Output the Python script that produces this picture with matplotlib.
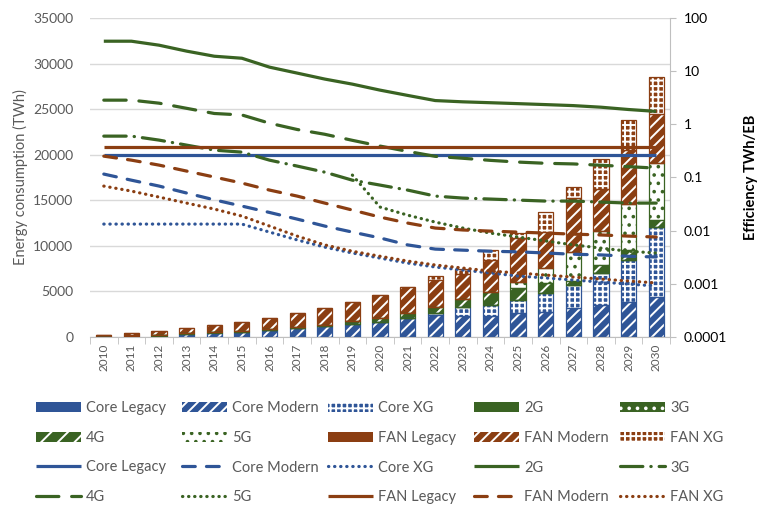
import numpy as np
import matplotlib.pyplot as plt
from matplotlib.ticker import FuncFormatter, FixedLocator

plt.rcParams['font.family'] = ['Lato', 'DejaVu Sans']
plt.rcParams['hatch.linewidth'] = 1.4

# --- Data ---
years = [str(y) for y in range(2010, 2031)]

# stacked energy consumption (TWh)
core_legacy = [0] * 21
core_modern = [0, 60, 150, 330, 460, 560, 800, 950, 1200, 1480, 1680, 2050, 2400, 2300, 2300, 2600, 2780, 3150, 3510, 3870, 4420]
core_xg = [0, 0, 0, 0, 0, 0, 0, 0, 0, 0, 0, 80, 250, 1000, 1200, 1450, 2080, 2550, 3470, 4570, 7680]
g2 = [30, 40, 50, 40, 40, 30, 0, 0, 0, 0, 0, 0, 0, 0, 0, 0, 0, 0, 0, 0, 0]
g3 = [0, 0, 0, 30, 0, 0, 0, 0, 0, 0, 0, 0, 0, 0, 0, 0, 0, 0, 0, 0, 0]
g4 = [0, 0, 0, 0, 40, 50, 100, 150, 170, 260, 370, 480, 590, 900, 1450, 1280, 1100, 440, 910, 1100, 730]
g5 = [0, 0, 0, 0, 0, 0, 0, 0, 0, 0, 0, 0, 0, 0, 0, 730, 1570, 3220, 3720, 5010, 6210]
fan_legacy = [200, 100, 50, 0, 0, 0, 0, 0, 0, 0, 0, 0, 0, 0, 0, 0, 0, 0, 0, 0, 0]
fan_modern = [0, 240, 450, 550, 740, 970, 1150, 1500, 1780, 2100, 2520, 2900, 3000, 2750, 3500, 4750, 4020, 5850, 4680, 5960, 5480]
fan_xg = [0, 0, 0, 0, 0, 0, 0, 0, 0, 0, 0, 0, 440, 550, 1100, 550, 2190, 1270, 3290, 3290, 4020]

# efficiency (TWh/EB), log scale
eff_core_legacy = [0.26] * 21
eff_core_modern = [0.116, 0.089, 0.069, 0.051, 0.038, 0.029, 0.022, 0.0165, 0.0122, 0.0094, 0.0073,
                   0.0054, 0.0045, 0.0043, 0.0041, 0.0040, 0.0038, 0.0036, 0.0035, 0.0033, 0.0032]
eff_core_xg = [0.0133, 0.0133, 0.0133, 0.0133, 0.0133, 0.0133, 0.0094, 0.0067, 0.0049, 0.0038, 0.00305,
               0.00246, 0.00207, 0.00182, 0.0016, 0.0014, 0.00129, 0.00118, 0.00108, 0.00099, 0.00091]
eff_2g = [36.6, 36.6, 30.8, 23.8, 19.1, 17.5, 11.9, 9.2, 7.1, 5.7, 4.4,
          3.5, 2.8, 2.65, 2.55, 2.45, 2.35, 2.25, 2.1, 1.9, 1.75]
eff_3g = [0.6, 0.6, 0.505, 0.406, 0.327, 0.3, 0.212, 0.164, 0.126, 0.089, 0.072,
          0.058, 0.0447, 0.041, 0.0393, 0.0376, 0.036, 0.036, 0.0345, 0.033, 0.033]
eff_4g = [2.85, 2.85, 2.5, 2.0, 1.6, 1.5, 1.05, 0.8, 0.65, 0.5, 0.39,
          0.31, 0.25, 0.23, 0.21, 0.195, 0.185, 0.18, 0.17, 0.16, 0.15]
eff_5g = [np.nan] * 9 + [0.111, 0.0278, 0.0196, 0.0145, 0.0112, 0.009, 0.0076, 0.0064, 0.0054, 0.0047, 0.0041, 0.0038]
eff_fan_legacy = [0.37] * 21
eff_fan_modern = [0.252, 0.212, 0.171, 0.132, 0.102, 0.0785, 0.058, 0.0447, 0.033, 0.0244, 0.018,
                  0.0139, 0.0112, 0.0103, 0.0098, 0.0094, 0.009, 0.0086, 0.0083, 0.0079, 0.0076]
eff_fan_xg = [0.0689, 0.0555, 0.0428, 0.033, 0.0255, 0.0188, 0.0122, 0.0079, 0.0054, 0.0041, 0.0033,
              0.00268, 0.00226, 0.00198, 0.00174, 0.0016, 0.00146, 0.00134, 0.00123, 0.00113, 0.00104]

BLUE = '#2F5597'
GREEN = '#3A6323'
BROWN = '#8B3E12'
GRAY = '#595959'

# --- Figure ---
fig = plt.figure(figsize=(7.68, 5.07), dpi=100)
ax = fig.add_axes([90 / 768, 1 - 337 / 507, (670 - 90) / 768, (337 - 18) / 507])
x = np.arange(len(years))
w = 0.55

# (label, values, colour, face, hatch colour, hatch)
bar_series = [
    ('Core Legacy', core_legacy, BLUE, BLUE, BLUE, None),
    ('Core Modern', core_modern, BLUE, BLUE, 'white', '///'),
    ('Core XG', core_xg, BLUE, BLUE, 'white', '+++'),
    ('2G', g2, GREEN, GREEN, GREEN, None),
    ('3G', g3, GREEN, GREEN, 'white', '..'),
    ('4G', g4, GREEN, GREEN, 'white', '//'),
    ('5G', g5, GREEN, 'white', GREEN, '..'),
    ('FAN Legacy', fan_legacy, BROWN, BROWN, BROWN, None),
    ('FAN Modern', fan_modern, BROWN, BROWN, 'white', '///'),
    ('FAN XG', fan_xg, BROWN, BROWN, 'white', '+++'),
]

bar_handles = []
bottom = np.zeros(len(years))
for label, vals, col, face, hcol, hatch in bar_series:
    vals = np.array(vals, dtype=float)
    b = ax.bar(x, vals, w, bottom=bottom, color=face, edgecolor=hcol, hatch=hatch,
               linewidth=0, label=label, zorder=2)
    ax.bar(x, vals, w, bottom=bottom, fill=False, edgecolor=col, linewidth=0.9, zorder=3)
    bar_handles.append(b)
    bottom += vals

ax.set_xlim(-0.5, len(years) - 0.5)
ax.set_ylim(0, 35000)
ax.set_yticks(range(0, 35001, 5000))
ax.yaxis.grid(True, color='#D9D9D9', linewidth=1)
ax.set_axisbelow(True)
ax.set_xticks(x)
ax.set_xticklabels(years, rotation=90, fontsize=8.5, color=GRAY)
ax.xaxis.set_minor_locator(FixedLocator(np.arange(-0.5, len(years), 1)))
ax.tick_params(axis='x', which='major', length=0, pad=5)
ax.tick_params(axis='x', which='minor', length=5, color='#BFBFBF')
ax.tick_params(axis='y', length=0, labelsize=10, labelcolor=GRAY, pad=12)
for s in ['left', 'top', 'right']:
    ax.spines[s].set_visible(False)
ax.spines['bottom'].set_color('#BFBFBF')
ax.set_ylabel('Energy consumption (TWh)', fontsize=10.5, color=GRAY, labelpad=4)

# --- Efficiency lines ---
ax2 = ax.twinx()
ax2.set_yscale('log')
ax2.set_ylim(1e-4, 100)
lw = 2.3
line_series = [
    ('Core Legacy', eff_core_legacy, BLUE, '-'),
    ('Core Modern', eff_core_modern, BLUE, (0, (4, 3.5))),
    ('Core XG', eff_core_xg, BLUE, (0, (0.1, 1.8))),
    ('2G', eff_2g, GREEN, '-'),
    ('3G', eff_3g, GREEN, (0, (7, 2.5, 0.1, 2.5))),
    ('4G', eff_4g, GREEN, (0, (7, 4))),
    ('5G', eff_5g, GREEN, (0, (0.1, 1.8))),
    ('FAN Legacy', eff_fan_legacy, BROWN, '-'),
    ('FAN Modern', eff_fan_modern, BROWN, (0, (4, 3.5))),
    ('FAN XG', eff_fan_xg, BROWN, (0, (0.1, 1.8))),
]
line_handles = []
for label, vals, col, ls in line_series:
    ln, = ax2.plot(x, vals, color=col, linestyle=ls, linewidth=lw,
                   dash_capstyle='round', solid_capstyle='butt', label=label)
    line_handles.append(ln)

ax2.yaxis.set_major_formatter(FuncFormatter(lambda v, p: '{:g}'.format(v)))
ax2.yaxis.set_minor_locator(FixedLocator([]))
ax2.tick_params(axis='y', which='major', length=4, color='#BFBFBF', labelsize=10, labelcolor='black', pad=6)
for s in ['left', 'top', 'bottom']:
    ax2.spines[s].set_visible(False)
ax2.spines['right'].set_color('#BFBFBF')
ax2.set_ylabel('Efficiency TWh/EB', fontsize=10.5, fontweight='bold', rotation=90, labelpad=12)

# --- Legend: 4 rows x 5 columns ---
handles = bar_handles + line_handles
labels = [s[0] for s in bar_series] + [s[0] for s in line_series]
col_x = [36, 182, 328, 474, 620]
for c in range(5):
    idx = [r * 5 + c for r in range(4)]
    fig.legend([handles[i] for i in idx], [labels[i] for i in idx],
               loc='upper left', bbox_to_anchor=(col_x[c] / 768, 1 - 401 / 507),
               frameon=False, fontsize=10.5, handlelength=3.1, handleheight=0.7,
               handletextpad=0.35, labelspacing=1.08, borderpad=0, borderaxespad=0,
               labelcolor=GRAY)

fig.savefig('out.png', dpi=100)
